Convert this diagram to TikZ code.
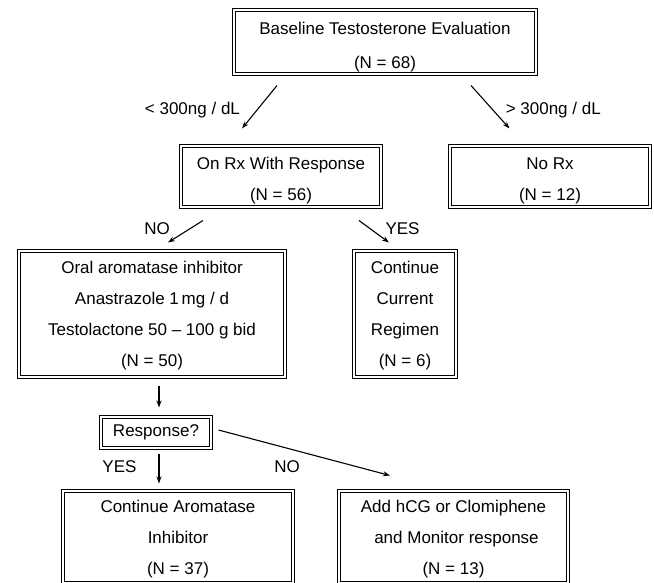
\documentclass[tikz,border=0pt]{standalone}
\usepackage{fontspec}
\setmainfont{Liberation Sans}
\usetikzlibrary{arrows.meta, positioning}

\newcommand{\toppad}[1]{\rule{0pt}{#1}}

\begin{document}
\begin{tikzpicture}[>={Stealth[length=7pt,width=5pt]}, font=\fontsize{17}{31}\selectfont,
        box/.style={draw, double, double distance=1.8pt, line width=1pt, align=center, inner sep=2pt},
        lbl/.style={inner sep=0pt}]
        \useasboundingbox (0,0) rectangle (654pt,-582pt);

        \node[box, minimum width=302pt, minimum height=64pt] (base) at (385pt,-42pt) {\toppad{22pt}Baseline Testosterone Evaluation \\[3pt] (N = 68)};
        \node[box, minimum width=200pt, minimum height=61pt, below=71pt of base, xshift=-104pt] (onrx) {\toppad{20.5pt}On Rx With Response \\ (N = 56)};
        \node[box, minimum width=200pt, minimum height=61pt, right=68pt of onrx] (norx) {\toppad{20.5pt}No Rx \\ (N = 12)};
        \node[box, minimum width=266pt, minimum height=126pt, below=43pt of onrx, xshift=-129pt] (oral) {\toppad{16.5pt}Oral aromatase inhibitor \\ Anastrazole 1\,mg / d \\ Testolactone 50 -- 100 g bid \\ (N = 50)};
        \node[box, minimum width=102pt, minimum height=126pt, right=68pt of oral] (cont) {\toppad{16.5pt}Continue \\ Current \\ Regimen \\ (N = 6)};
        \node[box, minimum width=110pt, minimum height=31pt, below=39pt of oral, xshift=4pt] (resp) {Response?};
        \node[box, minimum width=230pt, minimum height=92pt, below=42pt of resp, xshift=22pt] (contai) {\toppad{16.5pt}Continue Aromatase \\ Inhibitor \\ (N = 37)};
        \node[box, minimum width=229pt, minimum height=92pt, right=45pt of contai] (addhcg) {\toppad{16.5pt}Add hCG or Clomiphene \\ \hspace{6pt}and Monitor response \\ (N = 13)};

        \draw[->, line width=1.1pt] ([xshift=-108pt,yshift=-11pt]base.south) -- node[lbl, midway, left=19pt, yshift=-3pt] {< 300ng / dL} ([xshift=-39pt,yshift=17pt]onrx.north);
        \draw[->, line width=1.1pt] ([xshift=86pt,yshift=-11pt]base.south) -- node[lbl, midway, right=15pt, yshift=-3pt] {> 300ng / dL} ([xshift=-40.5pt,yshift=17pt]norx.north);
        \draw[->, line width=1.1pt] ([xshift=-78pt,yshift=-13pt]onrx.south) -- node[lbl, midway, left=15pt, yshift=3pt] {NO} ([xshift=16pt,yshift=8pt]oral.north);
        \draw[->, line width=1.1pt] ([xshift=78pt,yshift=-13pt]onrx.south) -- node[lbl, midway, right=11pt, yshift=3pt] {YES} ([xshift=-16pt,yshift=8pt]cont.north);
        \draw[->, line width=1.1pt] ([xshift=7pt,yshift=-8pt]oral.south) -- ([xshift=3pt,yshift=9pt]resp.north);
        \draw[->, line width=1.1pt] ([xshift=3pt,yshift=-5pt]resp.south) -- node[lbl, midway, left=22pt, yshift=2pt] {YES} ([xshift=-19pt,yshift=7pt]contai.north);
        \draw[->, line width=1.1pt] ([xshift=7pt,yshift=2.5pt]resp.east) -- node[lbl, pos=0.4, below=12pt] {NO} ([xshift=-63.5pt,yshift=15pt]addhcg.north);
    \end{tikzpicture}
\end{document}
